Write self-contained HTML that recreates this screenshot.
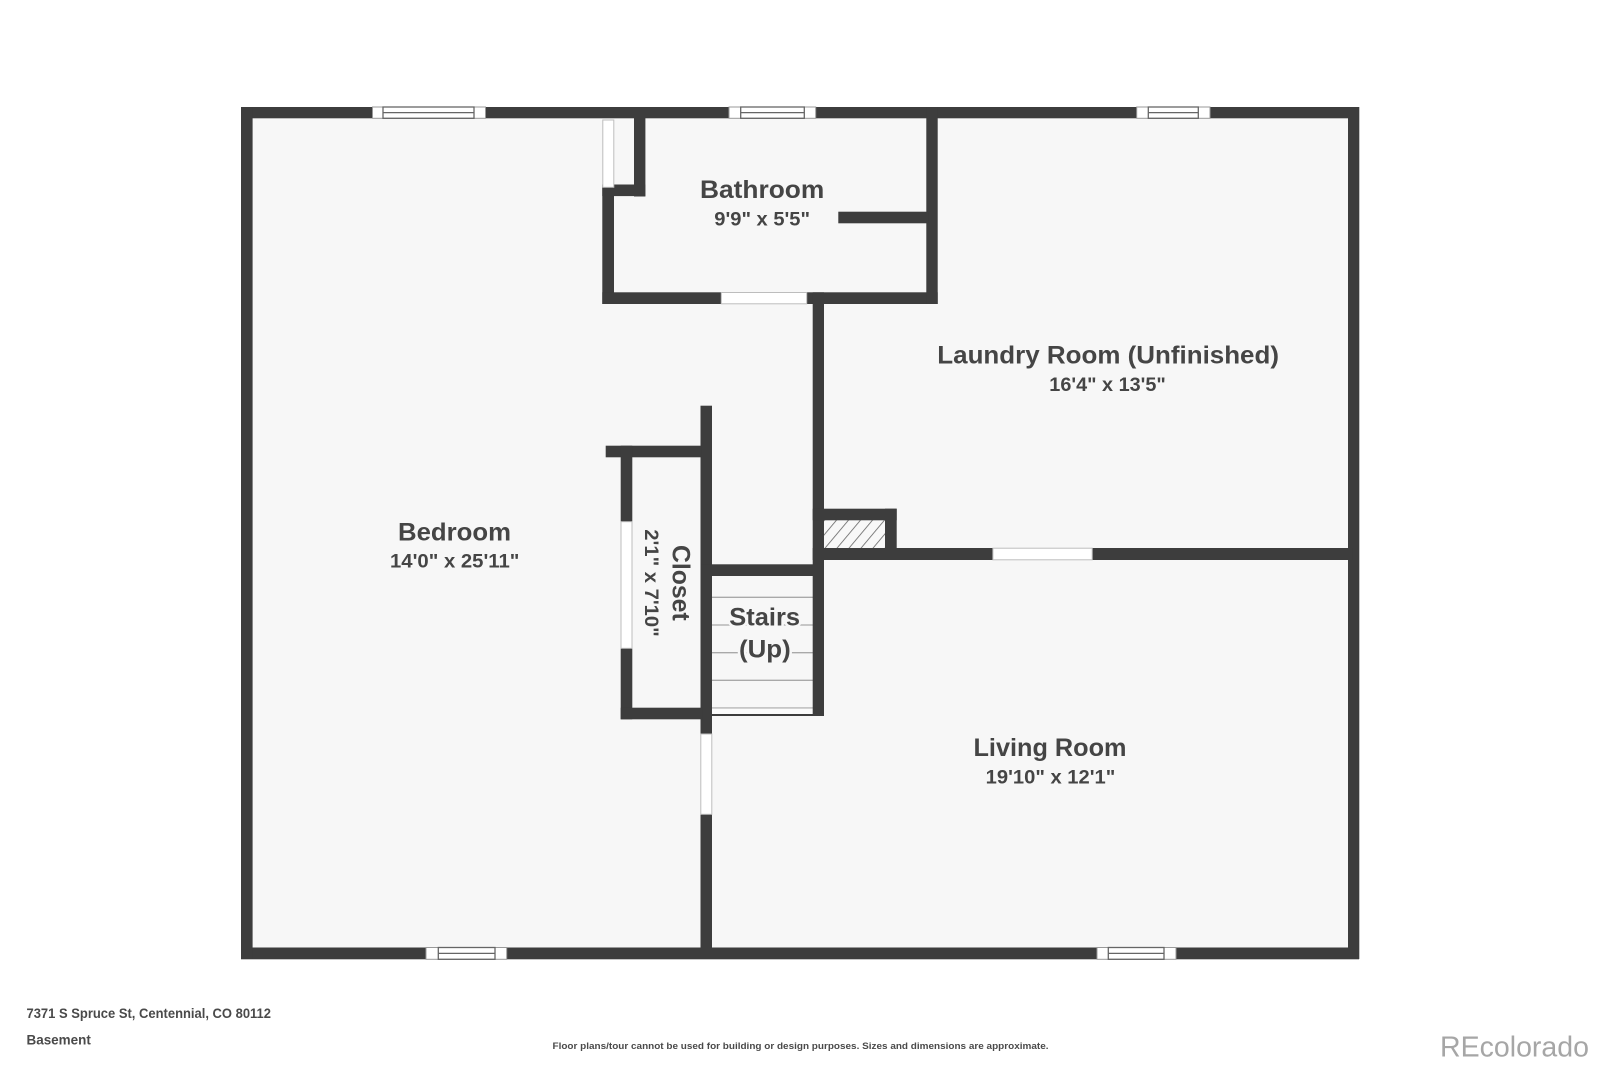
<!DOCTYPE html>
<html>
<head>
<meta charset="utf-8">
<style>
html,body{margin:0;padding:0;background:#fff;width:1600px;height:1066px;overflow:hidden}
svg{display:block}
text{font-family:"Liberation Sans",sans-serif;fill:#454545}
.n{font-weight:700;font-size:25px}
.d{font-weight:700;font-size:19.5px}
.f{font-weight:700;font-size:13.5px;fill:#4a4a4a}
.h{paint-order:stroke;stroke:#f7f7f7;stroke-width:5px;stroke-linejoin:round}
</style>
</head>
<body>
<svg width="1600" height="1066" viewBox="0 0 1600 1066" xmlns="http://www.w3.org/2000/svg">
<defs>
<pattern id="hatch" width="12" height="28" patternUnits="userSpaceOnUse" patternTransform="translate(824 520) skewX(-40)">
<rect width="12" height="28" fill="#f8f8f8"/>
<rect x="0" width="1.2" height="28" fill="#777"/>
</pattern>
</defs>
<rect width="1600" height="1066" fill="#fff"/>
<rect x="241" y="107" width="1118" height="852" fill="#f7f7f7"/>

<!-- stairs -->
<g stroke="#a9a9a9" stroke-width="1.3">
<line x1="712" y1="597.3" x2="813" y2="597.3"/>
<line x1="712" y1="625" x2="813" y2="625"/>
<line x1="712" y1="652.7" x2="813" y2="652.7"/>
<line x1="712" y1="680.3" x2="813" y2="680.3"/>
<line x1="712" y1="708" x2="813" y2="708"/>
</g>
<rect x="712" y="708.5" width="101" height="5.5" fill="#fbfbfb"/>
<rect x="712" y="714" width="101" height="2" fill="#3d3d3d"/>

<!-- chimney hatch -->
<rect x="824" y="520" width="61" height="28.5" fill="url(#hatch)"/>

<!-- walls -->
<g fill="#3d3d3d">
<rect x="241" y="107" width="1118" height="11.3"/>
<rect x="241" y="947.5" width="1118" height="11.8"/>
<rect x="241" y="107" width="11.6" height="852"/>
<rect x="1348" y="107" width="11.3" height="852"/>
<!-- bathroom -->
<rect x="634" y="107" width="11.4" height="89.5"/>
<rect x="602.3" y="184.5" width="43" height="11.6"/>
<rect x="602.3" y="187" width="11.7" height="117"/>
<rect x="602.3" y="292.3" width="335.4" height="11.7"/>
<rect x="926.3" y="107" width="11.4" height="197"/>
<rect x="838.3" y="211.7" width="90" height="11.6"/>
<!-- centre vertical -->
<rect x="812.7" y="292.3" width="11.3" height="423.7"/>
<rect x="700.5" y="405.7" width="11.5" height="541.8"/>
<!-- closet -->
<rect x="605.7" y="445.7" width="96" height="11.6"/>
<rect x="620.7" y="445.7" width="11.6" height="273.6"/>
<rect x="620.7" y="707.7" width="82" height="11.6"/>
<!-- stair top -->
<rect x="700.5" y="564.3" width="115" height="11.7"/>
<!-- chimney + laundry -->
<rect x="812.7" y="508.7" width="84" height="11.6"/>
<rect x="885" y="508.7" width="11.7" height="51.3"/>
<rect x="812.7" y="548" width="540" height="12"/>
</g>

<!-- interior doors / openings -->
<g fill="#fff" stroke="#bdbdbd" stroke-width="1">
<rect x="602.8" y="120" width="11" height="67.3"/>
<rect x="721.3" y="292.5" width="85.4" height="11.3"/>
<rect x="621" y="521.7" width="11" height="126.6"/>
<rect x="992.9" y="548.2" width="99.3" height="11.6"/>
<rect x="700.8" y="734" width="11" height="80.3"/>
</g>

<!-- windows -->
<g fill="#fff" stroke="#999" stroke-width="1">
<rect x="372.5" y="107" width="113" height="11.3"/>
<rect x="729" y="107" width="86.7" height="11.3"/>
<rect x="1136.7" y="107" width="73.3" height="11.3"/>
<rect x="426" y="947.5" width="80.7" height="11.8"/>
<rect x="1097" y="947.5" width="79" height="11.8"/>
</g>
<g fill="none" stroke="#666" stroke-width="1.3">
<rect x="383" y="107" width="91" height="11.3"/>
<line x1="383" y1="112.6" x2="474" y2="112.6"/>
<rect x="740.7" y="107" width="63.6" height="11.3"/>
<line x1="740.7" y1="112.6" x2="804.3" y2="112.6"/>
<rect x="1148.3" y="107" width="50" height="11.3"/>
<line x1="1148.3" y1="112.6" x2="1198.3" y2="112.6"/>
<rect x="438.3" y="947.5" width="56.7" height="11.8"/>
<line x1="438.3" y1="953.4" x2="495" y2="953.4"/>
<rect x="1108.3" y="947.5" width="55.7" height="11.8"/>
<line x1="1108.3" y1="953.4" x2="1164" y2="953.4"/>
</g>

<!-- room labels -->
<text class="n" x="700" y="197.8" textLength="124.3" lengthAdjust="spacingAndGlyphs">Bathroom</text>
<text class="d" x="714.3" y="225.3" textLength="95.7" lengthAdjust="spacingAndGlyphs">9'9" x 5'5"</text>

<text class="n" x="937.3" y="363.3" textLength="341.7" lengthAdjust="spacingAndGlyphs">Laundry Room (Unfinished)</text>
<text class="d" x="1049.3" y="391.2" textLength="116.5" lengthAdjust="spacingAndGlyphs">16'4" x 13'5"</text>

<text class="n" x="398" y="540.3" textLength="113" lengthAdjust="spacingAndGlyphs">Bedroom</text>
<text class="d" x="390" y="567.5" textLength="129.4" lengthAdjust="spacingAndGlyphs">14'0" x 25'11"</text>

<text class="n" x="973.5" y="756" textLength="153" lengthAdjust="spacingAndGlyphs">Living Room</text>
<text class="d" x="985.7" y="783.5" textLength="129.6" lengthAdjust="spacingAndGlyphs">19'10" x 12'1"</text>

<text class="n h" x="729.3" y="625.7" textLength="70.7" lengthAdjust="spacingAndGlyphs">Stairs</text>
<text class="n h" x="739" y="657.3" textLength="51.7" lengthAdjust="spacingAndGlyphs">(Up)</text>

<text class="n" transform="translate(672.7 545) rotate(90)" textLength="75.7" lengthAdjust="spacingAndGlyphs">Closet</text>
<text class="d" transform="translate(645 529.3) rotate(90)" textLength="107.4" lengthAdjust="spacingAndGlyphs">2'1" x 7'10"</text>

<!-- footer -->
<text class="f" x="26.5" y="1018" textLength="244.5" lengthAdjust="spacingAndGlyphs">7371 S Spruce St, Centennial, CO 80112</text>
<text class="f" x="26.5" y="1044.5" textLength="64.3" lengthAdjust="spacingAndGlyphs">Basement</text>
<text x="552.5" y="1049" font-size="9.5" font-weight="700" style="fill:#4a4a4a" textLength="496" lengthAdjust="spacingAndGlyphs">Floor plans/tour cannot be used for building or design purposes. Sizes and dimensions are approximate.</text>
<text x="1440" y="1056.7" font-size="28.5" style="fill:#a6a6a6" textLength="149" lengthAdjust="spacingAndGlyphs">REcolorado</text>
</svg>
</body>
</html>
